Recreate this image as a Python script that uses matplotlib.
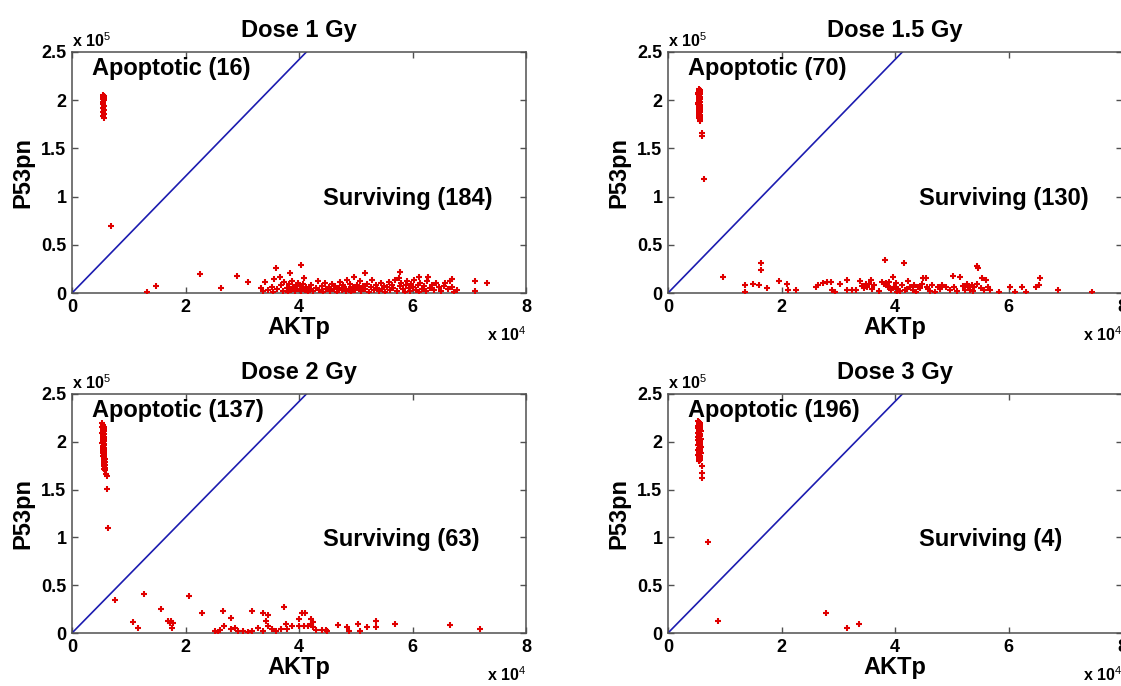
import matplotlib
matplotlib.use('Agg')
import matplotlib.pyplot as plt

plt.rcParams['font.family'] = ['Liberation Sans', 'DejaVu Sans']
plt.rcParams['mathtext.fontset'] = 'custom'
plt.rcParams['mathtext.rm'] = 'Liberation Sans'
plt.rcParams['mathtext.bf'] = 'Liberation Sans:bold'

# ---------------- data (AKTp in units of 1e4, P53pn in units of 1e5) ----------------
titles = ['Dose 1 Gy', 'Dose 1.5 Gy', 'Dose 2 Gy', 'Dose 3 Gy']
apop_labels = ['Apoptotic (16)', 'Apoptotic (70)', 'Apoptotic (137)', 'Apoptotic (196)']
surv_labels = ['Surviving (184)', 'Surviving (130)', 'Surviving (63)', 'Surviving (4)']

xticks = [0, 2, 4, 6, 8]
xtick_labels = ['0', '2', '4', '6', '8']
yticks = [0, 0.5, 1, 1.5, 2, 2.5]
ytick_labels = ['0', '0.5', '1', '1.5', '2', '2.5']

boundary_x = [0, 4.13]
boundary_y = [0, 2.5]

# Dose 1 Gy
apop1_x = [0.55, 0.56, 0.54, 0.57, 0.55, 0.56, 0.55, 0.54, 0.56, 0.55, 0.57, 0.55, 0.56,
           0.55, 0.56, 0.69]
apop1_y = [2.05, 2.04, 2.03, 2.02, 2.01, 2.00, 1.98, 1.96, 1.94, 1.92, 1.90, 1.88, 1.86,
           1.84, 1.82, 0.70]
surv1_x = [1.32, 1.48, 2.25, 2.63, 2.90, 3.10, 3.59, 4.03, 3.84, 5.17, 5.78, 7.10, 7.32,
           7.10, 6.69, 6.27, 6.12, 4.09, 3.66, 3.56, 3.40, 3.33, 3.36, 3.45,
           3.52, 3.55, 3.62, 3.68, 3.71, 3.74, 3.78, 3.80, 3.83, 3.86, 3.88, 3.90, 3.93,
           3.95, 3.97, 3.99,
           4.01, 4.03, 4.05, 4.07, 4.10, 4.12, 4.15, 4.18, 4.22, 4.25, 4.30, 4.33, 4.36,
           4.40, 4.42, 4.45, 4.48,
           4.52, 4.55, 4.58, 4.61, 4.64, 4.67, 4.70, 4.72, 4.75, 4.78, 4.80, 4.83, 4.85,
           4.88, 4.90, 4.92, 4.95, 4.97, 4.99,
           5.02, 5.05, 5.08, 5.10, 5.13, 5.16, 5.20, 5.23, 5.26, 5.29, 5.32, 5.35, 5.38,
           5.41, 5.44, 5.47, 5.49,
           5.52, 5.55, 5.58, 5.60, 5.63, 5.66, 5.70, 5.73, 5.76, 5.78, 5.80, 5.83, 5.86,
           5.88, 5.91, 5.93, 5.96, 5.98,
           6.01, 6.03, 6.06, 6.09, 6.11, 6.14, 6.17, 6.20, 6.23, 6.26, 6.30, 6.34, 6.38,
           6.42, 6.47, 6.50,
           6.55, 6.58, 6.62, 6.66, 6.70, 6.73, 6.78]
surv1_y = [0.01, 0.07, 0.20, 0.05, 0.18, 0.11, 0.26, 0.29, 0.21, 0.21, 0.22, 0.12, 0.10,
           0.02, 0.15, 0.17, 0.17, 0.16, 0.17, 0.15, 0.11, 0.05, 0.02, 0.03,
           0.06, 0.01, 0.04, 0.08, 0.02, 0.11, 0.05, 0.01, 0.09, 0.03, 0.12, 0.06, 0.02,
           0.08, 0.04, 0.10,
           0.07, 0.02, 0.05, 0.09, 0.03, 0.06, 0.01, 0.04, 0.08, 0.02, 0.05, 0.12, 0.03,
           0.07, 0.01, 0.10, 0.04,
           0.06, 0.02, 0.09, 0.04, 0.07, 0.01, 0.05, 0.11, 0.03, 0.08, 0.06, 0.02, 0.13,
           0.04, 0.09, 0.01, 0.06, 0.17, 0.03,
           0.08, 0.05, 0.12, 0.02, 0.07, 0.04, 0.09, 0.01, 0.06, 0.14, 0.03, 0.08, 0.05,
           0.02, 0.10, 0.04, 0.07,
           0.01, 0.06, 0.11, 0.03, 0.08, 0.05, 0.13, 0.02, 0.16, 0.07, 0.10, 0.04, 0.01,
           0.08, 0.12, 0.05, 0.02, 0.09,
           0.06, 0.13, 0.03, 0.08, 0.01, 0.10, 0.04, 0.07, 0.02, 0.12, 0.05, 0.08, 0.03,
           0.10, 0.06, 0.02,
           0.07, 0.10, 0.04, 0.12, 0.06, 0.01, 0.03]

# Dose 1.5 Gy
apop2_x = [0.55, 0.56, 0.54, 0.56, 0.55, 0.53, 0.57, 0.55, 0.54, 0.56, 0.55, 0.57, 0.54,
           0.55, 0.56, 0.53, 0.55, 0.57, 0.54, 0.56, 0.55, 0.54, 0.56, 0.55, 0.57, 0.55,
           0.54, 0.56, 0.55, 0.56, 0.55, 0.57, 0.56, 0.56, 0.57, 0.53, 0.57, 0.53, 0.57,
           0.54, 0.60, 0.60, 0.64]
apop2_y = [2.12, 2.11, 2.10, 2.09, 2.08, 2.07, 2.06, 2.05, 2.04, 2.03, 2.02, 2.01, 2.00,
           1.99, 1.98, 1.97, 1.96, 1.95, 1.94, 1.93, 1.92, 1.91, 1.90, 1.89, 1.88, 1.87,
           1.86, 1.85, 1.84, 1.83, 1.82, 1.81, 1.80, 1.79, 1.78, 2.06, 2.01, 1.96, 1.91,
           1.86, 1.66, 1.63, 1.18]
surv2_x = [0.97, 1.35, 1.35, 1.49, 1.61, 1.64, 1.64, 1.75, 1.96, 2.10, 2.11, 2.26, 2.60,
           2.64, 2.73, 2.81, 2.88, 2.89, 2.95, 3.03, 3.16, 3.16, 3.24, 3.32, 3.38, 3.46,
           3.49, 3.51, 3.55, 3.57, 3.63, 3.77, 3.82, 3.80, 3.84, 3.87, 3.89, 3.93, 3.96,
           3.99, 4.03, 4.06, 4.12, 4.16, 4.18, 4.23, 4.27, 4.31, 4.34, 4.40, 4.47, 4.50,
           4.54, 4.56, 4.59, 4.66, 4.71, 4.75, 4.83, 4.90, 4.97, 5.02, 5.04, 5.15, 5.23,
           5.26, 5.29, 5.32, 5.35, 5.40, 5.45, 5.47, 5.45, 5.54, 5.57, 5.61, 5.64, 5.67,
           5.84, 6.03, 6.11, 6.23, 6.30, 6.49, 6.54, 6.55, 6.88, 7.47,
           3.42, 3.60, 3.72, 3.92, 4.01, 4.08, 4.21, 4.37, 4.44, 4.62, 4.79, 5.10, 5.19,
           5.38, 5.51]
surv2_y = [0.17, 0.08, 0.01, 0.09, 0.08, 0.31, 0.24, 0.05, 0.12, 0.09, 0.03, 0.03, 0.06,
           0.08, 0.10, 0.11, 0.11, 0.03, 0.01, 0.09, 0.13, 0.03, 0.03, 0.03, 0.12, 0.05,
           0.09, 0.06, 0.09, 0.13, 0.08, 0.11, 0.34, 0.09, 0.10, 0.06, 0.11, 0.03, 0.17,
           0.06, 0.01, 0.04, 0.08, 0.31, 0.03, 0.12, 0.06, 0.03, 0.08, 0.06, 0.09, 0.16,
           0.16, 0.06, 0.04, 0.08, 0.01, 0.06, 0.08, 0.06, 0.03, 0.18, 0.06, 0.17, 0.03,
           0.09, 0.06, 0.03, 0.08, 0.06, 0.28, 0.26, 0.09, 0.16, 0.03, 0.14, 0.06, 0.03,
           0.01, 0.06, 0.01, 0.06, 0.01, 0.06, 0.08, 0.16, 0.03, 0.01,
           0.07, 0.04, 0.02, 0.05, 0.10, 0.02, 0.04, 0.01, 0.05, 0.02, 0.04, 0.02, 0.07,
           0.02, 0.05]

# Dose 2 Gy
apop3_x = [0.53, 0.55, 0.54, 0.56, 0.53, 0.55, 0.57, 0.54, 0.56, 0.55, 0.53, 0.57, 0.55,
           0.54, 0.56, 0.55, 0.57, 0.54, 0.56, 0.55, 0.53, 0.57, 0.56, 0.54, 0.55, 0.57,
           0.56, 0.55, 0.57, 0.54, 0.56, 0.55, 0.57, 0.56, 0.55, 0.57, 0.56, 0.58, 0.56,
           0.57, 0.58, 0.57, 0.56, 0.58, 0.57, 0.58, 0.57, 0.58, 0.60, 0.62, 0.62, 0.63]
apop3_y = [2.20, 2.18, 2.17, 2.16, 2.15, 2.14, 2.13, 2.12, 2.11, 2.10, 2.09, 2.08, 2.07,
           2.06, 2.05, 2.04, 2.03, 2.02, 2.01, 2.00, 1.99, 1.98, 1.97, 1.96, 1.95, 1.94,
           1.93, 1.92, 1.91, 1.90, 1.89, 1.88, 1.87, 1.86, 1.85, 1.84, 1.83, 1.82, 1.81,
           1.80, 1.79, 1.78, 1.77, 1.76, 1.75, 1.73, 1.72, 1.70, 1.66, 1.64, 1.51, 1.10]
surv3_x = [0.76, 1.07, 1.17, 1.27, 1.56, 1.70, 1.73, 1.75, 1.78, 1.76, 2.07, 2.29, 2.52,
           2.60, 2.66, 2.68, 2.80, 2.80, 2.87, 2.93, 3.02, 3.18, 3.18, 3.28, 3.37, 3.37,
           3.41, 3.46, 3.45, 3.53, 3.69, 3.73, 3.77, 3.78, 3.87, 4.00, 4.00, 4.06, 4.11,
           4.09, 4.16, 4.21, 4.22, 4.25, 4.25, 4.41, 4.47, 4.69, 4.84, 4.88, 5.04, 5.07,
           5.20, 5.35, 5.35, 5.70, 6.66, 7.19, 2.57, 3.10, 3.60, 4.30, 4.50]
surv3_y = [0.35, 0.12, 0.05, 0.41, 0.25, 0.13, 0.10, 0.13, 0.10, 0.05, 0.39, 0.21, 0.02,
           0.03, 0.23, 0.07, 0.16, 0.04, 0.05, 0.02, 0.02, 0.23, 0.02, 0.05, 0.21, 0.02,
           0.13, 0.19, 0.07, 0.04, 0.04, 0.27, 0.09, 0.04, 0.07, 0.15, 0.07, 0.21, 0.21,
           0.07, 0.07, 0.15, 0.09, 0.12, 0.06, 0.03, 0.03, 0.08, 0.06, 0.02, 0.09, 0.02,
           0.06, 0.13, 0.06, 0.09, 0.08, 0.04, 0.01, 0.01, 0.02, 0.03, 0.02]

# Dose 3 Gy
apop4_x = [0.53, 0.55, 0.57, 0.54, 0.56, 0.52, 0.55, 0.57, 0.53, 0.56, 0.54, 0.58, 0.55,
           0.53, 0.57, 0.54, 0.56, 0.52, 0.55, 0.58, 0.53, 0.56, 0.54, 0.57, 0.55, 0.53,
           0.56, 0.58, 0.54, 0.55, 0.57, 0.53, 0.56, 0.54, 0.58, 0.55, 0.53, 0.57, 0.54,
           0.56, 0.55, 0.57, 0.54, 0.56, 0.55, 0.57, 0.56, 0.55, 0.57, 0.56,
           0.60, 0.60, 0.60, 0.70]
apop4_y = [2.22, 2.21, 2.20, 2.19, 2.18, 2.17, 2.16, 2.15, 2.14, 2.13, 2.12, 2.11, 2.10,
           2.09, 2.08, 2.07, 2.06, 2.05, 2.04, 2.03, 2.02, 2.01, 2.00, 1.99, 1.98, 1.97,
           1.96, 1.95, 1.94, 1.93, 1.92, 1.91, 1.90, 1.89, 1.88, 1.87, 1.86, 1.85, 1.84,
           1.83, 1.82, 1.81, 1.80, 2.18, 2.08, 1.98, 1.88, 2.13, 2.03, 1.93,
           1.75, 1.67, 1.62, 0.95]
surv4_x = [0.88, 2.78, 3.16, 3.36]
surv4_y = [0.13, 0.21, 0.05, 0.09]

apop_x = [apop1_x, apop2_x, apop3_x, apop4_x]
apop_y = [apop1_y, apop2_y, apop3_y, apop4_y]
surv_x = [surv1_x, surv2_x, surv3_x, surv4_x]
surv_y = [surv1_y, surv2_y, surv3_y, surv4_y]

# ---------------- figure ----------------
FW, FH = 1121, 686
fig = plt.figure(figsize=(FW / 100, FH / 100), dpi=100)

boxes = [(72, 52, 454, 241), (668, 52, 454, 241),
         (72, 394, 454, 239), (668, 394, 454, 239)]

red = '#e00000'
blue = '#1c1cb0'
gray = '#505050'

for i, (l, t, w, h) in enumerate(boxes):
    ax = fig.add_axes([l / FW, (FH - t - h) / FH, w / FW, h / FH])
    ax.plot(boundary_x, boundary_y, color=blue, lw=1.2, zorder=2)
    ax.plot(apop_x[i], apop_y[i], ls='none', marker='+', ms=4.2, mew=1.5,
            color=red, zorder=3)
    ax.plot(surv_x[i], surv_y[i], ls='none', marker='+', ms=4.2, mew=1.5,
            color=red, zorder=3)
    ax.set_xlim(0, 8)
    ax.set_ylim(0, 2.5)
    ax.set_xticks(xticks)
    ax.set_xticklabels(xtick_labels, fontweight='bold')
    ax.set_yticks(yticks)
    ax.set_yticklabels(ytick_labels, fontweight='bold')
    ax.tick_params(direction='in', top=True, right=True, length=4, width=1,
                   color=gray, labelsize=13, pad=4)
    for s in ax.spines.values():
        s.set_color(gray)
        s.set_linewidth(1.1)
    ax.set_title(titles[i], fontsize=17, fontweight='bold', pad=11)
    ax.set_xlabel('AKTp', fontsize=17, fontweight='bold', labelpad=0)
    ax.set_ylabel('P53pn', fontsize=17, fontweight='bold', labelpad=5)
    ax.text(0.35, 2.33, apop_labels[i], fontsize=17, fontweight='bold',
            ha='left', va='center')
    ax.text(4.42, 0.98, surv_labels[i], fontsize=17, fontweight='bold',
            ha='left', va='center')
    ax.annotate(r'x 10$^{5}$', xy=(0, 1), xycoords='axes fraction',
                xytext=(0, 1.5), textcoords='offset points',
                ha='left', va='bottom', fontsize=11.5, fontweight='bold')
    ax.annotate(r'x 10$^{4}$', xy=(1, 0), xycoords='axes fraction',
                xytext=(0, -30), textcoords='offset points',
                ha='right', va='center', fontsize=11.5, fontweight='bold')

fig.savefig('out.png', dpi=100)
